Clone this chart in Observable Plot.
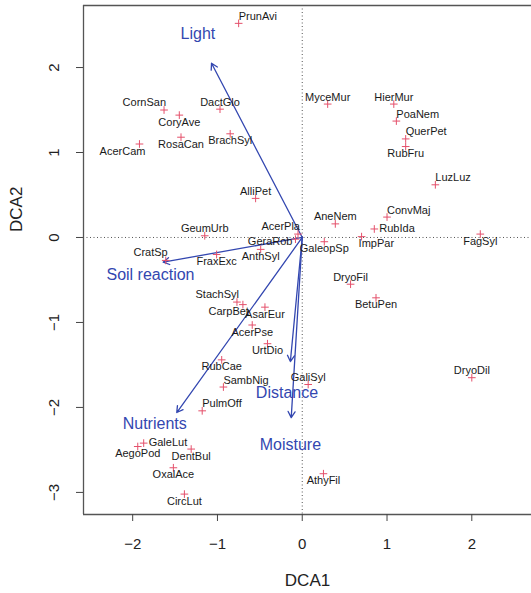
<!DOCTYPE html>
<html><head><meta charset="utf-8">
<script src="https://cdn.jsdelivr.net/npm/d3@7"></script>
<script src="https://cdn.jsdelivr.net/npm/@observablehq/plot@0.6"></script>
<style>html,body{margin:0;padding:0;background:#fff}#chart svg{display:block}</style>
</head><body><div id="chart"></div>
<script>
// Species scores (DCA1, DCA2) and label placement (compass side of the marker)
const species = ["PrunAvi","CornSan","CoryAve","DactGlo","AcerCam","RosaCan","BrachSyl","AlliPet","MyceMur","HierMur","PoaNem","QuerPet","RubFru","LuzLuz","GeumUrb","AcerPla","GeraRob","CratSp","FraxExc","AnthSyl","StachSyl","CarpBet","AsarEur","AcerPse","UrtDio","RubCae","AneNem","ConvMaj","RubIda","ImpPar","GaleopSp","FagSyl","DryoFil","BetuPen","GaliSyl","DryoDil","AthyFil","SambNig","PulmOff","GaleLut","AegoPod","DentBul","OxalAce","CircLut"];
const dca1 = [-0.75,-1.63,-1.45,-0.97,-1.92,-1.43,-0.85,-0.55,0.30,1.08,1.11,1.22,1.22,1.57,-1.15,-0.05,-0.08,-1.61,-1.01,-0.49,-0.77,-0.70,-0.44,-0.59,-0.41,-0.95,0.39,1.00,0.85,0.70,0.26,2.10,0.57,0.87,0.07,2.00,0.25,-0.93,-1.18,-1.87,-1.94,-1.31,-1.52,-1.39];
const dca2 = [2.52,1.50,1.44,1.51,1.10,1.18,1.22,0.46,1.57,1.57,1.37,1.16,1.07,0.62,0.02,0.04,-0.02,-0.27,-0.20,-0.14,-0.76,-0.79,-0.82,-1.03,-1.25,-1.44,0.16,0.24,0.10,0.01,-0.05,0.04,-0.55,-0.71,-1.73,-1.65,-2.78,-1.76,-2.04,-2.42,-2.46,-2.49,-2.71,-3.02];
const labelSide = ["NE","NW","S","N","SW","S","S","N","N","N","NE","NE","S","NE","N","NW","W","NW","S","S","NW","SW","S","S","S","S","N","NE","E","SE","S","S","N","S","N","N","S","NE","NE","E","S","S","S","S"];

// Environmental vectors (arrow heads) and their label points
const envVars = ["Light","Soil reaction","Nutrients","Distance","Moisture"];
const envX = [-1.07,-1.64,-1.48,-0.14,-0.13];
const envY = [2.05,-0.29,-2.06,-1.46,-2.12];
const envLabelX = [-1.23,-1.79,-1.74,-0.18,-0.14];
const envLabelY = [2.40,-0.44,-2.19,-1.83,-2.44];

const xTicks = [-2,-1,0,1,2];
const yTicks = [-3,-2,-1,0,1,2];
const xTitle = "DCA1";
const yTitle = "DCA2";

const xDomain = [-2.58, 2.704];
const yDomain = [-3.26, 2.73];

const sp = species.map((s,i)=>({name:s, x:dca1[i], y:dca2[i], side:labelSide[i]}));
const env = envVars.map((v,i)=>({name:v, x:envX[i], y:envY[i], lx:envLabelX[i], ly:envLabelY[i]}));

const sides = {
  N:{dx:0,dy:-7,anchor:"middle"},
  S:{dx:0,dy:7,anchor:"middle"},
  NE:{dx:0,dy:-7,anchor:"start"},
  NW:{dx:2,dy:-8,anchor:"end"},
  SW:{dx:6,dy:7,anchor:"end"},
  SE:{dx:-3,dy:7,anchor:"start"},
  E:{dx:5,dy:-1,anchor:"start"},
  W:{dx:-3,dy:2,anchor:"end"}
};
const labelMarks = Object.entries(sides).map(([k,o]) =>
  Plot.text(sp.filter(d=>d.side===k), {x:"x", y:"y", text:"name", dx:o.dx, dy:o.dy, textAnchor:o.anchor, fontSize:11, fill:"#1a1a1a"}));

const blue = "#3347b0";
const fmt = d3.format("d");
const chart = Plot.plot({
  width: 531, height: 593,
  marginLeft: 83, marginRight: 0, marginTop: 5, marginBottom: 79,
  style: {fontFamily: "'Liberation Sans', Arial, sans-serif", background: "#fff"},
  x: {domain: xDomain},
  y: {domain: yDomain},
  marks: [
    Plot.ruleX([0], {stroke:"#555", strokeDasharray:"1,2.5", strokeWidth:1}),
    Plot.ruleY([0], {stroke:"#555", strokeDasharray:"1,2.5", strokeWidth:1}),
    Plot.ruleX([xDomain[0]], {stroke:"#555", strokeWidth:1.3}),
    Plot.ruleY([yDomain[0]], {stroke:"#555", strokeWidth:1.3}),
    Plot.ruleY([yDomain[1]], {stroke:"#555", strokeWidth:1.3}),
    Plot.axisX({ticks: xTicks, tickFormat: fmt, tickSize: 7, tickPadding: 17, fontSize: 15, label: null, stroke:"#444", fill:"#222"}),
    Plot.axisY({ticks: yTicks, tickFormat: fmt, tickSize: 7, tickPadding: 18, tickRotate: -90, fontSize: 15, label: null, stroke:"#444", fill:"#222"}),
    Plot.text([xTitle], {frameAnchor:"bottom", dy: 71, fontSize: 17, fill:"#222"}),
    Plot.text([yTitle], {frameAnchor:"left", rotate:-90, dx:-67, dy:-28, fontSize: 17, fill:"#222"}),
    Plot.arrow(env, {x1: () => 0, y1: () => 0, x2:"x", y2:"y", stroke: blue, strokeWidth: 1.3, headLength: 8, headAngle: 60}),
    Plot.dot(sp, {x:"x", y:"y", symbol:"plus", r:2.6, stroke:"#e4506b", strokeWidth:1}),
    ...labelMarks,
    Plot.text(env, {x:"lx", y:"ly", text:"name", fontSize:16, fill: blue})
  ]
});
document.getElementById("chart").appendChild(chart);
</script>
</body></html>
